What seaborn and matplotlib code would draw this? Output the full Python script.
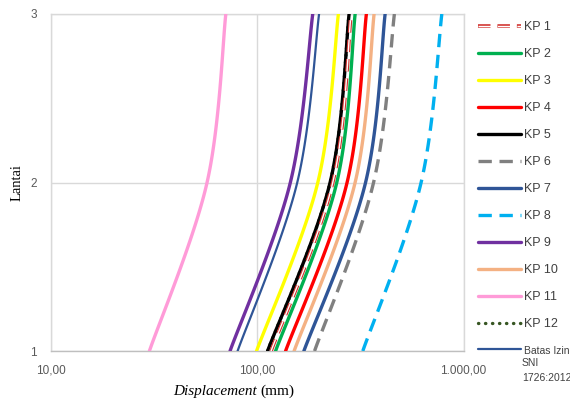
import numpy as np
import pandas as pd
import seaborn as sns
import matplotlib
matplotlib.use("Agg")
import matplotlib.pyplot as plt
from matplotlib.lines import Line2D
import matplotlib.patheffects as pe

# ---------------- data ----------------
floors = [1, 2, 3]
kp1 = [116.7, 232.4, 285.0]
kp2 = [122.7, 243.0, 298.2]
kp3 = [99.2, 196.6, 247.4]
kp4 = [137.2, 272.6, 338.1]
kp5 = [112.2, 225.5, 278.8]
kp6 = [189.6, 366.4, 462.3]
kp7 = [168.3, 335.1, 416.8]
kp8 = [324.9, 623.0, 785.1]
kp9 = [73.8, 144.7, 185.8]
kp10 = [150.9, 298.2, 368.5]
kp11 = [30.0, 57.1, 70.4]
kp12 = [112.2, 225.5, 278.8]
batas = [80.3, 156.3, 199.4]

series_names = ["KP 1", "KP 2", "KP 3", "KP 4", "KP 5", "KP 6", "KP 7",
                "KP 8", "KP 9", "KP 10", "KP 11", "KP 12", "Batas Izin"]
series_values = [kp1, kp2, kp3, kp4, kp5, kp6, kp7, kp8, kp9, kp10, kp11, kp12, batas]

x_ticks = [10, 100, 1000]
x_tick_labels = ["10,00", "100,00", "1.000,00"]
y_ticks = [1, 2, 3]
y_tick_labels = ["1", "2", "3"]

# ---------------- styles ----------------
LW = 2.4
styles = {
    "KP 1": dict(color="white", linewidth=1.0, linestyle=(0, (9, 5)),
                 path_effects=[pe.Stroke(linewidth=2.6, foreground="#D0312D"), pe.Normal()], zorder=6),
    "KP 2": dict(color="#00B050", linewidth=LW, linestyle="-", zorder=4),
    "KP 3": dict(color="#FFFF00", linewidth=LW, linestyle="-", zorder=4),
    "KP 4": dict(color="#FF0000", linewidth=LW, linestyle="-", zorder=4),
    "KP 5": dict(color="#000000", linewidth=LW, linestyle="-", zorder=5),
    "KP 6": dict(color="#808080", linewidth=LW, linestyle=(0, (4, 2.3)), zorder=4),
    "KP 7": dict(color="#2F5597", linewidth=LW, linestyle="-", zorder=4),
    "KP 8": dict(color="#00B0F0", linewidth=LW, linestyle=(0, (4, 2.3)), zorder=4),
    "KP 9": dict(color="#7030A0", linewidth=LW, linestyle="-", zorder=4),
    "KP 10": dict(color="#F4B183", linewidth=LW, linestyle="-", zorder=4),
    "KP 11": dict(color="#FF9BD8", linewidth=LW, linestyle="-", zorder=4),
    "KP 12": dict(color="#375623", linewidth=LW, linestyle=(0, (0.1, 2.0)),
                  dash_capstyle="round", zorder=3),
    "Batas Izin": dict(color="#2F5597", linewidth=1.6, linestyle="-", zorder=4),
}


def smooth_curve(xs, ys, n=40):
    """Excel-style smoothed line (cubic Bezier) computed in log-x space."""
    P = np.column_stack([np.log10(xs), np.asarray(ys, float)])
    m = len(P)
    out = []
    for i in range(m - 1):
        p0 = P[i - 1] if i > 0 else P[i]
        p1, p2 = P[i], P[i + 1]
        p3 = P[i + 2] if i + 2 < m else P[i + 1]
        c1 = p1 + (p2 - p0) / 6.0
        c2 = p2 - (p3 - p1) / 6.0
        t = np.linspace(0, 1, n)[:, None]
        seg = ((1 - t) ** 3) * p1 + 3 * ((1 - t) ** 2) * t * c1 + 3 * (1 - t) * t ** 2 * c2 + t ** 3 * p2
        out.append(seg if i == 0 else seg[1:])
    c = np.vstack(out)
    return 10 ** c[:, 0], c[:, 1]


sns.set_theme(style="white")
plt.rcParams["font.family"] = ["Liberation Sans", "DejaVu Sans"]

fig = plt.figure(figsize=(5.70, 4.01), dpi=100)
ax = fig.add_axes([51 / 570, 1 - 351 / 401, (463.5 - 51) / 570, (351 - 14) / 401])

for name, vals in zip(series_names, series_values):
    cx, cy = smooth_curve(vals, floors)
    df = pd.DataFrame({"Displacement": cx, "Lantai": cy})
    sns.lineplot(data=df, x="Displacement", y="Lantai", sort=False, estimator=None,
                 ax=ax, legend=False, **styles[name])

ax.set_xscale("log")
ax.set_xlim(10, 1000)
ax.set_ylim(1, 3)
ax.set_xticks(x_ticks)
ax.set_xticklabels(x_tick_labels)
ax.set_yticks(y_ticks)
ax.set_yticklabels(y_tick_labels)
ax.xaxis.set_minor_locator(matplotlib.ticker.NullLocator())
ax.tick_params(axis="both", length=0, labelsize=8.5, labelcolor="#595959")
ax.tick_params(axis="x", pad=9.5)
ax.tick_params(axis="y", pad=10)
ax.grid(True, which="major", color="#D9D9D9", linewidth=1.0)
for s in ["left", "right", "top"]:
    ax.spines[s].set_color("#D9D9D9")
    ax.spines[s].set_linewidth(1.0)
ax.spines["bottom"].set_color("#BFBFBF")
ax.spines["bottom"].set_linewidth(1.0)
ax.set_xlabel("")
ax.set_ylabel("")

fig.text(257 / 570, 1 - 391 / 401, "Displacement", ha="right", va="center",
         fontsize=11, family="Liberation Serif", style="italic", color="#000000")
fig.text(260 / 570, 1 - 391 / 401, "(mm)", ha="left", va="center",
         fontsize=11, family="Liberation Serif", color="#000000")
fig.text(17 / 570, 1 - 183 / 401, "Lantai", ha="center", va="center", rotation=90,
         fontsize=10.5, family="Liberation Serif", color="#000000")

# legend
handles = []
for name in series_names:
    st = {k: v for k, v in styles[name].items() if k != "zorder"}
    handles.append(Line2D([0], [0], **st))
leg = ax.legend(handles, series_names, loc="upper left",
                bbox_to_anchor=(478 / 570, 1 - 21 / 401), bbox_transform=fig.transFigure,
                frameon=False, borderpad=0, handlelength=3.4, handletextpad=0.25,
                labelspacing=1.2, fontsize=9, borderaxespad=0)
for t in leg.get_texts():
    t.set_color("#404040")
leg.get_texts()[-1].set_fontsize(7.5)
fig.text(522 / 570, 1 - 358 / 401, "SNI\n1726:2012", ha="left", va="top",
         fontsize=7.5, color="#404040", linespacing=1.65)

fig.savefig("out.png", dpi=100)
